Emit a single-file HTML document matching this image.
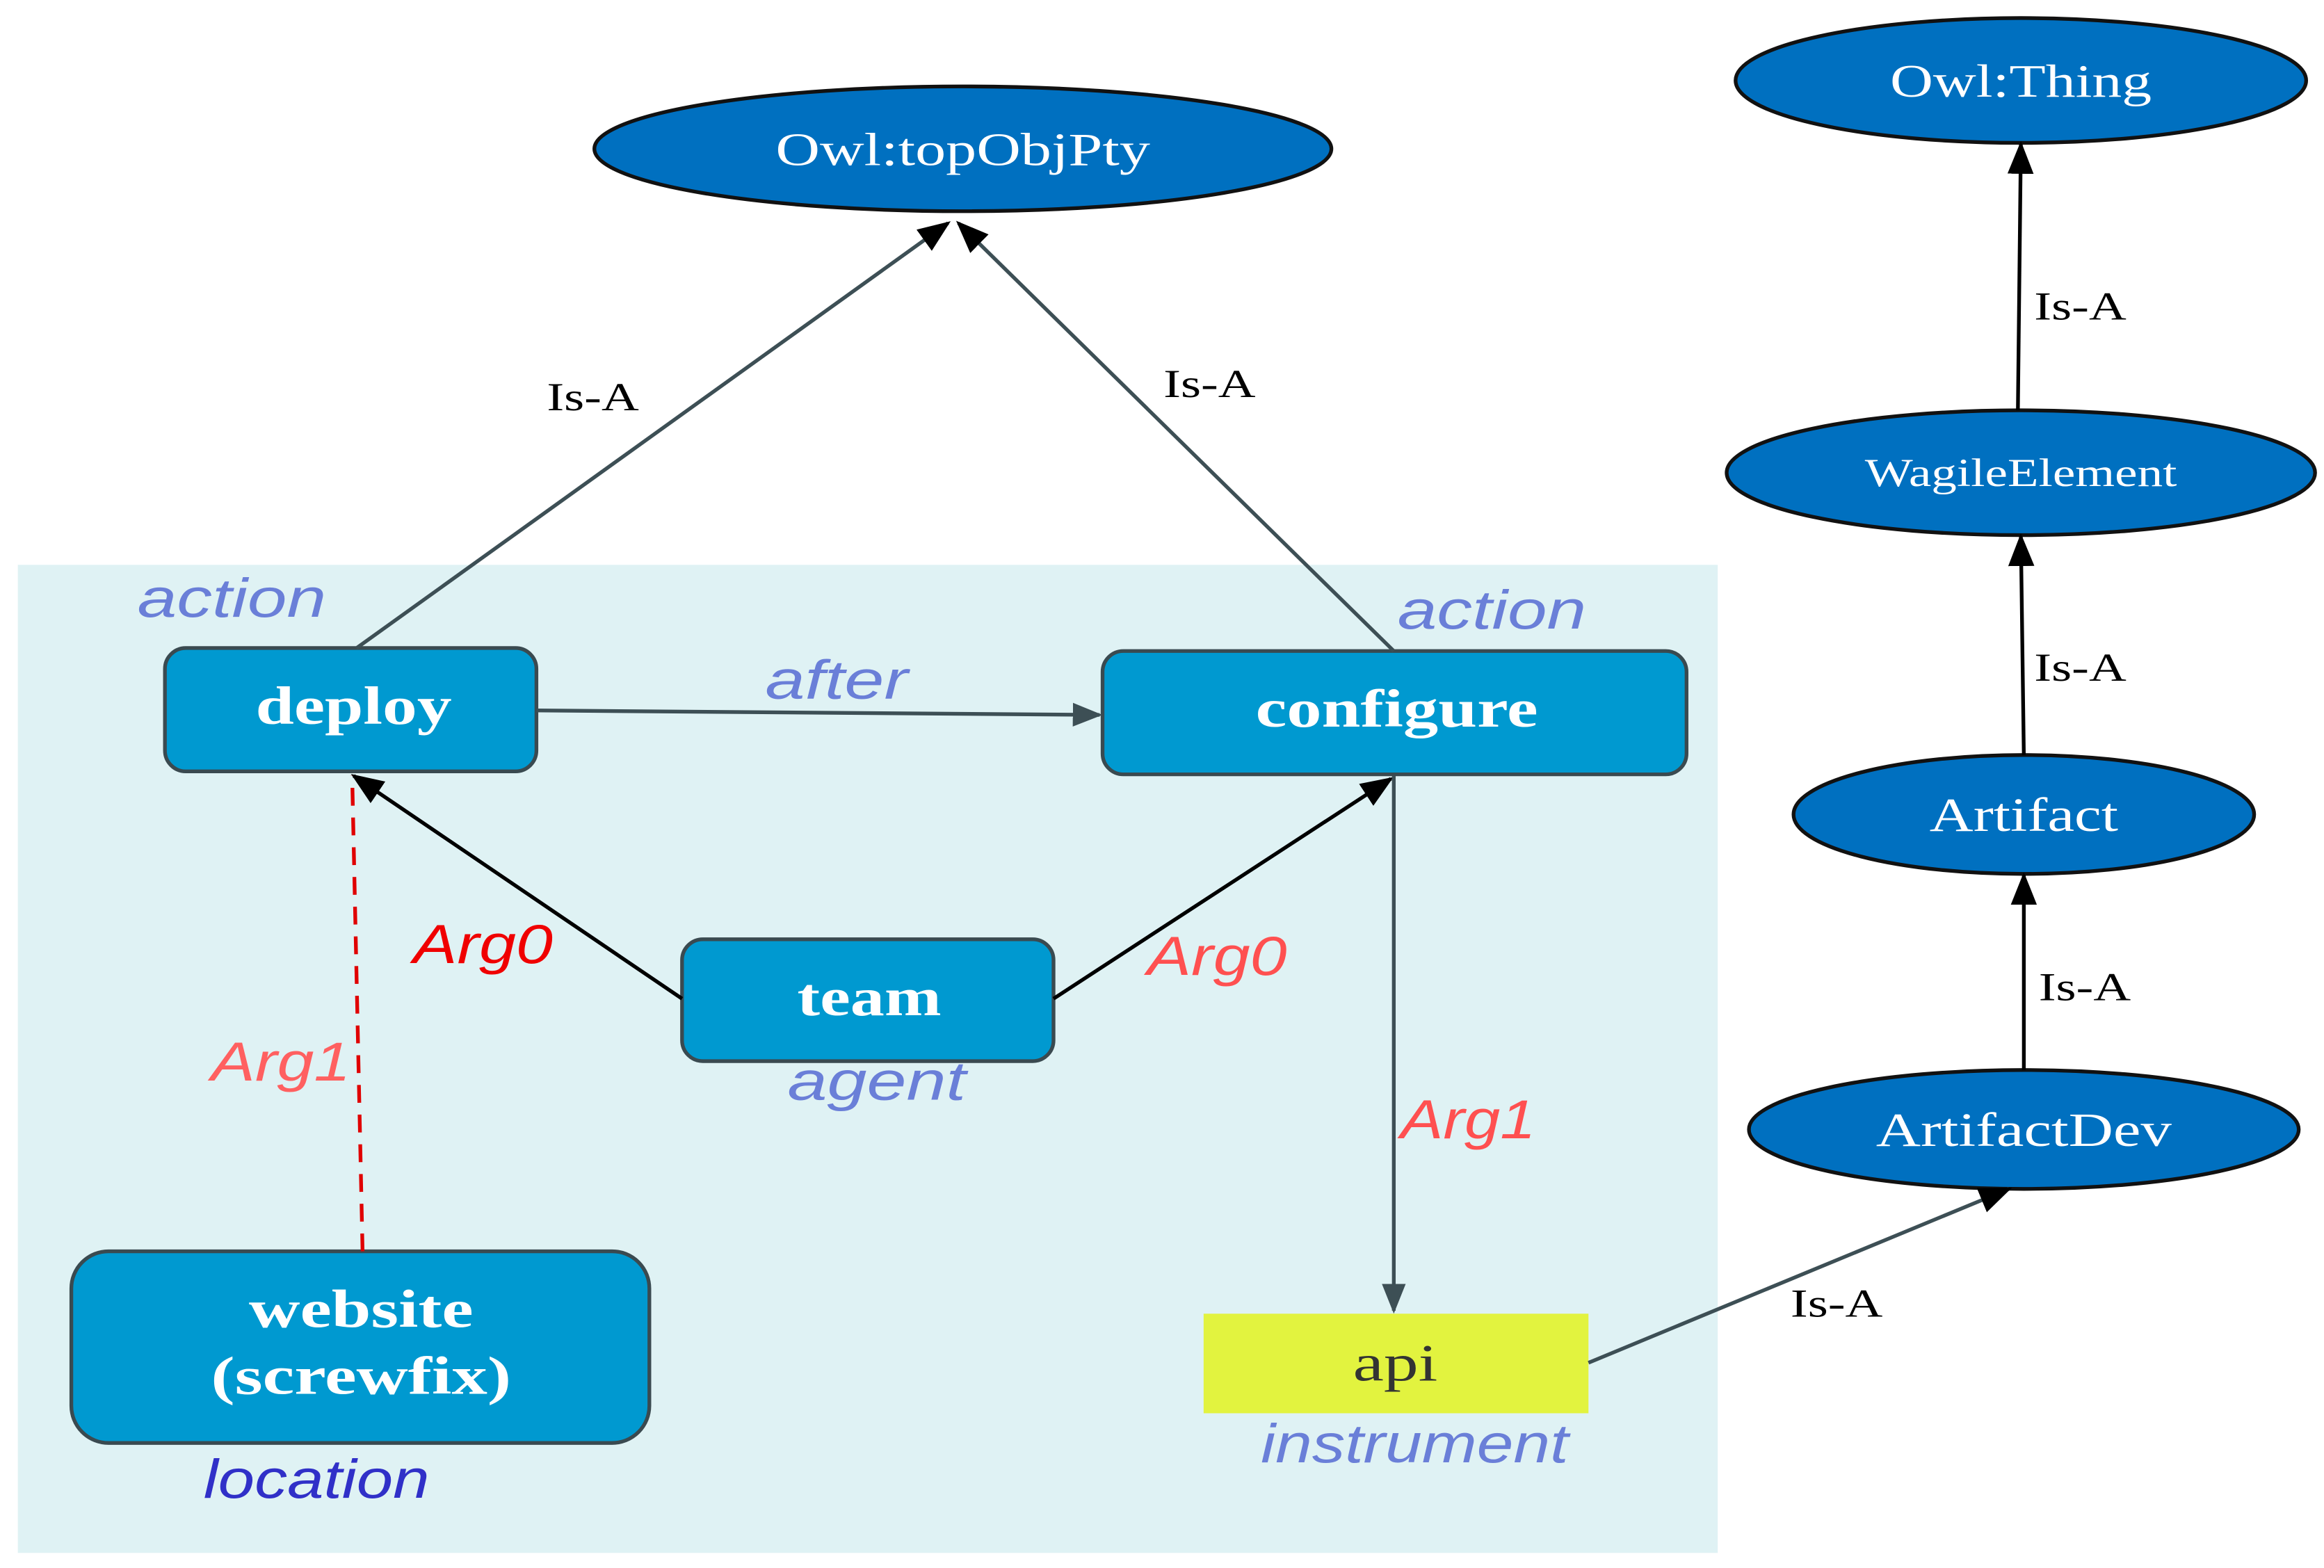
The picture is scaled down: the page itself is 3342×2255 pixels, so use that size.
<!DOCTYPE html>
<html><head><meta charset="utf-8"><style>html,body{margin:0;padding:0;background:#fff}svg{display:block}</style></head>
<body>
<svg width="3342" height="2255" viewBox="0 0 1564 1055" xmlns="http://www.w3.org/2000/svg">
<defs>
<marker id="ag" viewBox="0 0 10 10" refX="9" refY="5" markerWidth="20" markerHeight="20" markerUnits="userSpaceOnUse" orient="auto"><path d="M0,1L10,5L0,9z" fill="#3d4f55"/></marker>
<marker id="ak" viewBox="0 0 10 10" refX="9" refY="5" markerWidth="22" markerHeight="22" markerUnits="userSpaceOnUse" orient="auto"><path d="M0,1L10,5L0,9z" fill="#000"/></marker>
</defs>
<rect x="12" y="380" width="1144" height="665" fill="#dff2f4"/>
<g fill="#0070c0" stroke="#111" stroke-width="2.5">
<ellipse cx="648" cy="100" rx="248" ry="42"/>
<ellipse cx="1360" cy="54" rx="192" ry="42"/>
<ellipse cx="1360" cy="318" rx="198" ry="42"/>
<ellipse cx="1362" cy="548" rx="155" ry="40"/>
<ellipse cx="1362" cy="760" rx="185" ry="40"/>
</g>
<g fill="#0099d0" stroke="#3a4a50" stroke-width="2.5">
<rect x="111" y="436" width="250" height="83" rx="14"/>
<rect x="742" y="438" width="393" height="83" rx="14"/>
<rect x="459" y="632" width="250" height="82" rx="14"/>
<rect x="48" y="842" width="389" height="129" rx="25"/>
</g>
<rect x="810" y="884" width="259" height="67" fill="#e2f33f"/>
<g stroke-width="2.5" fill="none">
<line x1="240" y1="436" x2="638" y2="150" stroke="#3d4f55" marker-end="url(#ak)"/>
<line x1="938" y1="438" x2="645" y2="150" stroke="#3d4f55" marker-end="url(#ak)"/>
<line x1="361" y1="478" x2="740" y2="481" stroke="#3d4f55" marker-end="url(#ag)"/>
<line x1="459" y1="672" x2="238" y2="522" stroke="#000" marker-end="url(#ak)"/>
<line x1="709" y1="672" x2="936" y2="524" stroke="#000" marker-end="url(#ak)"/>
<line x1="244" y1="842" x2="237" y2="522" stroke="#e00000" stroke-dasharray="12,8"/>
<line x1="938" y1="522" x2="938" y2="882" stroke="#3d4f55" marker-end="url(#ag)"/>
<line x1="1069" y1="917" x2="1352" y2="800" stroke="#3d4f55" marker-end="url(#ak)"/>
<line x1="1362" y1="720" x2="1362" y2="589" stroke="#000" marker-end="url(#ak)"/>
<line x1="1362" y1="508" x2="1360" y2="361" stroke="#000" marker-end="url(#ak)"/>
<line x1="1358" y1="276" x2="1360" y2="97" stroke="#000" marker-end="url(#ak)"/>
</g>
<g font-family="Liberation Serif, serif" fill="#fff" text-anchor="middle" lengthAdjust="spacingAndGlyphs">
<text x="648" y="111" font-size="31" textLength="252" lengthAdjust="spacingAndGlyphs">Owl:topObjPty</text>
<text x="1360" y="65" font-size="31" textLength="176" lengthAdjust="spacingAndGlyphs">Owl:Thing</text>
<text x="1360" y="327" font-size="27" textLength="210" lengthAdjust="spacingAndGlyphs">WagileElement</text>
<text x="1362" y="559" font-size="32" textLength="127" lengthAdjust="spacingAndGlyphs">Artifact</text>
<text x="1362" y="771" font-size="32" textLength="199" lengthAdjust="spacingAndGlyphs">ArtifactDev</text>
<g font-weight="bold" font-size="36">
<text x="238" y="487" textLength="132" lengthAdjust="spacingAndGlyphs">deploy</text>
<text x="940" y="489" textLength="190" lengthAdjust="spacingAndGlyphs">configure</text>
<text x="585" y="683" textLength="97" lengthAdjust="spacingAndGlyphs">team</text>
<text x="243" y="893" textLength="151" lengthAdjust="spacingAndGlyphs">website</text>
<text x="243" y="938" textLength="202" lengthAdjust="spacingAndGlyphs">(screwfix)</text>
</g>
<text x="939" y="929" font-size="35" fill="#333" textLength="57" lengthAdjust="spacingAndGlyphs">api</text>
<g fill="#000" font-size="27">
<text x="399" y="276" textLength="62" lengthAdjust="spacingAndGlyphs">Is-A</text>
<text x="814" y="267" textLength="62" lengthAdjust="spacingAndGlyphs">Is-A</text>
<text x="1236" y="886" textLength="62" lengthAdjust="spacingAndGlyphs">Is-A</text>
<text x="1403" y="673" textLength="62" lengthAdjust="spacingAndGlyphs">Is-A</text>
<text x="1400" y="458" textLength="62" lengthAdjust="spacingAndGlyphs">Is-A</text>
<text x="1400" y="215" textLength="62" lengthAdjust="spacingAndGlyphs">Is-A</text>
</g>
</g>
<g font-family="Liberation Sans, sans-serif" font-style="italic" font-size="37" text-anchor="middle">
<g fill="#6a7fd8">
<text x="156" y="415" textLength="127" lengthAdjust="spacingAndGlyphs">action</text>
<text x="1004" y="423" textLength="127" lengthAdjust="spacingAndGlyphs">action</text>
<text x="563" y="470" textLength="96" lengthAdjust="spacingAndGlyphs">after</text>
<text x="590" y="740" textLength="120" lengthAdjust="spacingAndGlyphs">agent</text>
<text x="952" y="984" textLength="207" lengthAdjust="spacingAndGlyphs">instrument</text>
</g>
<text x="213" y="1008" fill="#3030c8" textLength="152" lengthAdjust="spacingAndGlyphs">location</text>
<text x="325" y="648" fill="#f00000" textLength="94" lengthAdjust="spacingAndGlyphs">Arg0</text>
<text x="819" y="656" fill="#ff5050" textLength="94" lengthAdjust="spacingAndGlyphs">Arg0</text>
<text x="189" y="727" fill="#ff6060" textLength="94" lengthAdjust="spacingAndGlyphs">Arg1</text>
<text x="988" y="766" fill="#ff5050" textLength="91" lengthAdjust="spacingAndGlyphs">Arg1</text>
</g>
</svg>
</body></html>
